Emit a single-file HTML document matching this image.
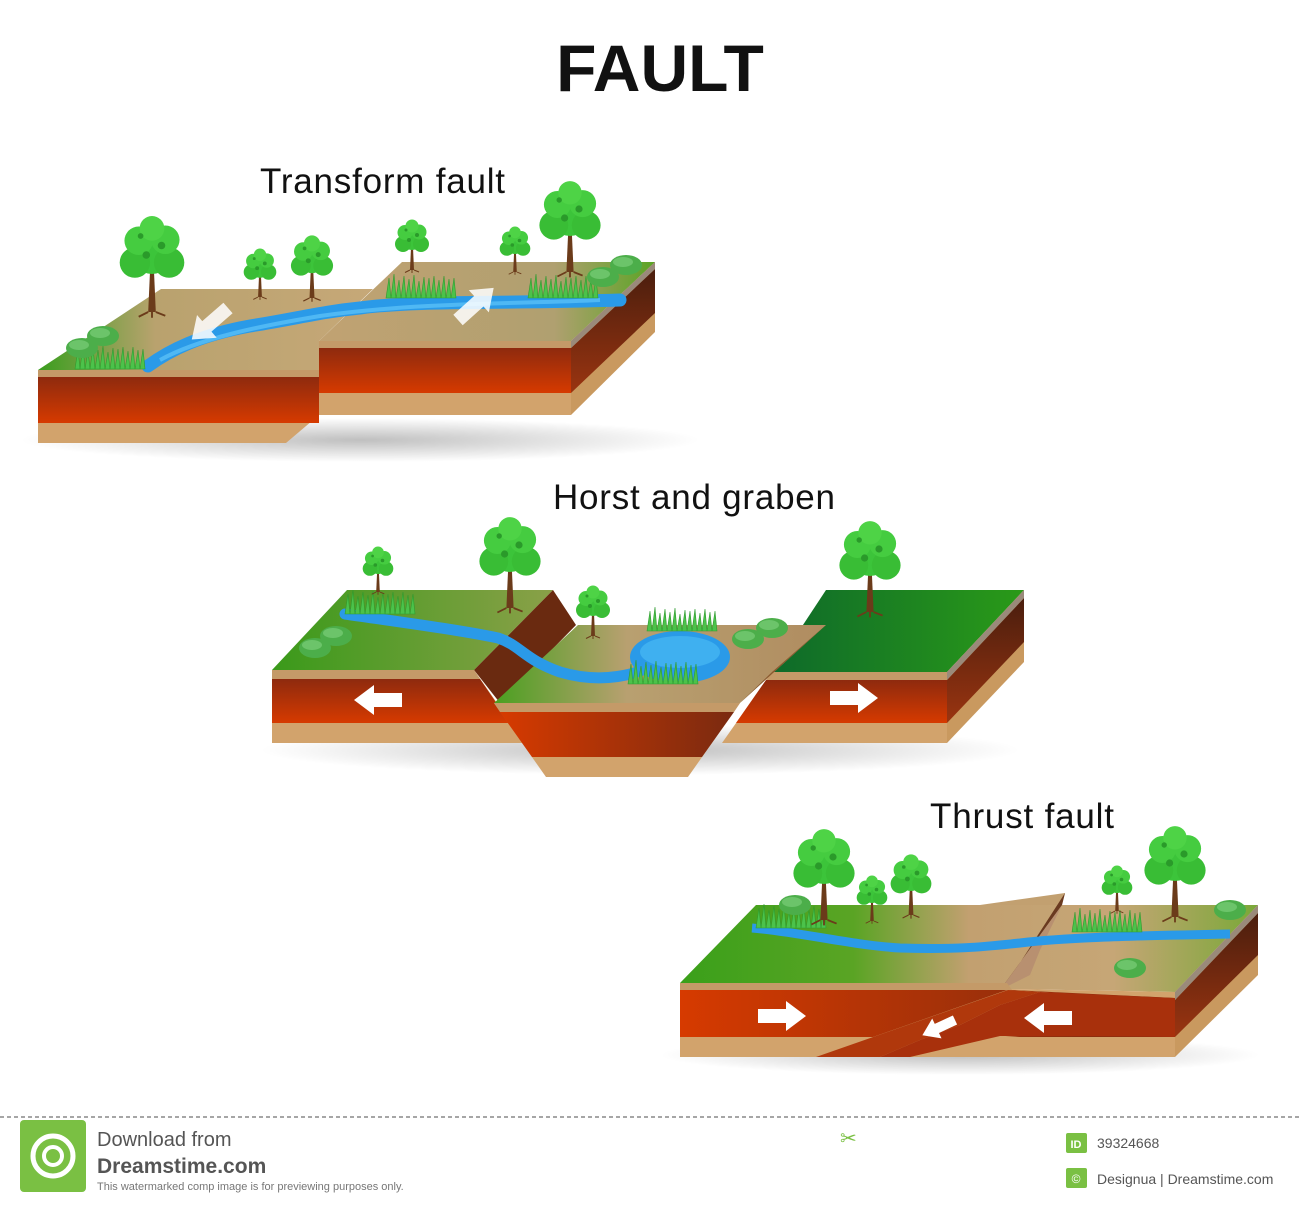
<!DOCTYPE html>
<html><head><meta charset="utf-8"><style>
html,body{margin:0;padding:0;background:#fff;}
body{width:1300px;height:1206px;position:relative;overflow:hidden;font-family:"Liberation Sans",sans-serif;}
</style></head><body>
<svg width="1300" height="1206" viewBox="0 0 1300 1206" xmlns="http://www.w3.org/2000/svg" style="position:absolute;left:0;top:0">
<defs>
<linearGradient id="red" x1="0" y1="0" x2="0" y2="1"><stop offset="0" stop-color="#8e2a0e"/><stop offset="1" stop-color="#d63a00"/></linearGradient>
<linearGradient id="redh" x1="0" y1="0" x2="1" y2="0"><stop offset="0" stop-color="#d63a00"/><stop offset="1" stop-color="#7a2a10"/></linearGradient>
<linearGradient id="side" x1="0" y1="0" x2="0" y2="1"><stop offset="0" stop-color="#4a1e0e"/><stop offset="1" stop-color="#9a3410"/></linearGradient>
<linearGradient id="gtan" x1="0" y1="0" x2="1" y2="0"><stop offset="0" stop-color="#3a9e1e"/><stop offset="0.35" stop-color="#b9a26e"/><stop offset="1" stop-color="#c6a878"/></linearGradient>
<linearGradient id="tang" x1="0" y1="0" x2="1" y2="0"><stop offset="0" stop-color="#c1a272"/><stop offset="0.7" stop-color="#b0a070"/><stop offset="1" stop-color="#5aa424"/></linearGradient>
<linearGradient id="green1" x1="0" y1="0" x2="1" y2="0"><stop offset="0" stop-color="#3a9a1a"/><stop offset="1" stop-color="#8aa048"/></linearGradient>
<linearGradient id="dgreen" x1="0" y1="0" x2="1" y2="0"><stop offset="0" stop-color="#0e6a2a"/><stop offset="1" stop-color="#2a9a18"/></linearGradient>
<linearGradient id="grab" x1="0" y1="0" x2="1" y2="0"><stop offset="0" stop-color="#4aa020"/><stop offset="0.4" stop-color="#b8a070"/><stop offset="1" stop-color="#b08c60"/></linearGradient>
<linearGradient id="thr" x1="0" y1="0" x2="1" y2="0"><stop offset="0" stop-color="#3aa01a"/><stop offset="0.3" stop-color="#5aa424"/><stop offset="0.5" stop-color="#c2a070"/><stop offset="0.75" stop-color="#c6a676"/><stop offset="1" stop-color="#7aa838"/></linearGradient>
<radialGradient id="shad"><stop offset="0" stop-color="#000" stop-opacity="0.25"/><stop offset="1" stop-color="#000" stop-opacity="0"/></radialGradient>
<g id="tree">
<path d="M-4,0 L-2,-45 L2,-45 L4,0 Z" fill="#6b3b1a"/>
<path d="M-4,0 L-14,5 M4,0 L14,4 M0,0 L0,6" stroke="#6b3b1a" stroke-width="2"/>
<circle cx="0" cy="-62" r="22" fill="#3cc43a"/>
<circle cx="-18" cy="-52" r="16" fill="#39bd35"/>
<circle cx="18" cy="-52" r="16" fill="#39bd35"/>
<circle cx="-14" cy="-75" r="15" fill="#45cc40"/>
<circle cx="14" cy="-76" r="15" fill="#45cc40"/>
<circle cx="0" cy="-88" r="13" fill="#4ed346"/>
<circle cx="-6" cy="-60" r="4" fill="#2a9a2a"/><circle cx="10" cy="-70" r="4" fill="#2a9a2a"/><circle cx="-12" cy="-80" r="3" fill="#2a9a2a"/>
</g>
<g id="grass"><path d="M0,0 l3,-20 l2,20 l3,-24 l2,24 l3,-18 l2,18 l3,-22 l2,22 l3,-19 l2,19 l3,-23 l2,23 l3,-17 l2,17 l3,-21 l2,21 l3,-20 l2,20 l3,-22 l2,22 l3,-18 l2,18 l3,-22 l2,22 l3,-19 l2,19 l3,-20 l2,20 Z" fill="#4cc24a" stroke="#2e9a2e" stroke-width="0.6"/></g>
<g id="bush"><ellipse cx="0" cy="0" rx="16" ry="10" fill="#4cae4a"/><ellipse cx="-3" cy="-3" rx="10" ry="5" fill="#6cc46a"/></g>
</defs>

<text x="660" y="91" text-anchor="middle" font-family="Liberation Sans" font-weight="bold" font-size="66" fill="#111">FAULT</text>
<text x="260" y="193" font-size="35" fill="#111" textLength="245">Transform fault</text>
<text x="553" y="509" font-size="35" fill="#111" textLength="282">Horst and graben</text>
<text x="930" y="828" font-size="35" fill="#111" textLength="184">Thrust fault</text>

<!-- ============ TRANSFORM ============ -->
<ellipse cx="360" cy="440" rx="340" ry="22" fill="url(#shad)"/>
<polygon points="38,370 319,370 319,341 373,289 161,289" fill="url(#gtan)"/>
<polygon points="38,370 319,370 319,415 286,443 38,443" fill="#d2a36c"/>
<rect x="38" y="370" width="281" height="7" fill="#c49a68"/>
<rect x="38" y="377" width="281" height="46" fill="url(#red)"/>
<polygon points="319,341 571,341 655,262 402,262" fill="url(#tang)"/>
<rect x="319" y="341" width="252" height="74" fill="#d2a36c"/>
<rect x="319" y="341" width="252" height="7" fill="#c49a68"/>
<rect x="319" y="348" width="252" height="45" fill="url(#red)"/>
<polygon points="571,341 655,262 655,332 571,415" fill="#c9995f"/>
<polygon points="571,348 655,269 655,313 571,393" fill="url(#side)"/>
<polygon points="571,341 655,262 655,269 571,348" fill="#9a8a7a"/>
<path d="M148,366 C170,350 200,335 250,326 C300,318 320,312 360,308 C420,300 500,304 620,300" fill="none" stroke="#2a9ae8" stroke-width="13" stroke-linecap="round"/>
<path d="M160,360 C200,338 260,326 320,316 C420,302 520,304 600,300" fill="none" stroke="#4fb8f4" stroke-width="4"/>
<use href="#grass" x="75" y="369"/>
<use href="#grass" x="386" y="298"/>
<use href="#grass" x="528" y="298"/>
<use href="#bush" x="103" y="336"/><use href="#bush" x="82" y="348"/>
<use href="#bush" x="626" y="265"/><use href="#bush" x="603" y="277"/>
<use href="#tree" transform="translate(152,312) scale(0.95)"/>
<use href="#tree" transform="translate(260,297) scale(0.48)"/>
<use href="#tree" transform="translate(312,298) scale(0.62)"/>
<use href="#tree" transform="translate(412,270) scale(0.5)"/>
<use href="#tree" transform="translate(515,272) scale(0.45)"/>
<use href="#tree" transform="translate(570,272) scale(0.9)"/>
<polygon points="0,-7 28,-7 28,-15 48,0 28,15 28,7 0,7" fill="#fff" opacity="0.85" transform="translate(228,308) rotate(139)"/>
<polygon points="0,-7 28,-7 28,-15 48,0 28,15 28,7 0,7" fill="#fff" opacity="0.85" transform="translate(458,320) rotate(-42)"/>

<!-- ============ HORST & GRABEN ============ -->
<ellipse cx="640" cy="750" rx="380" ry="25" fill="url(#shad)"/>
<polygon points="772,672 947,672 1024,590 826,590" fill="url(#dgreen)"/>
<polygon points="772,672 947,672 947,743 722,743" fill="#d2a36c"/>
<polygon points="772,672 947,672 947,680 766,680" fill="#c49a68"/>
<polygon points="766,680 947,680 947,723 736,723" fill="url(#red)"/>
<polygon points="947,672 1024,590 1024,662 947,743" fill="#c9995f"/>
<polygon points="947,680 1024,598 1024,642 947,723" fill="url(#side)"/>
<polygon points="947,672 1024,590 1024,598 947,680" fill="#9a8a7a"/>
<polygon points="272,670 474,670 553,590 347,590" fill="url(#green1)"/>
<polygon points="474,670 553,590 576,625 500,703" fill="#6a2a10"/>
<polygon points="272,670 474,670 525,743 272,743" fill="#d2a36c"/>
<polygon points="272,670 474,670 480,679 272,679" fill="#c49a68"/>
<polygon points="272,679 480,679 510,723 272,723" fill="url(#red)"/>
<polygon points="494,703 740,703 826,625 578,625" fill="url(#grab)"/>
<polygon points="740,703 772,672 826,625" fill="#8a5a30"/>
<polygon points="494,703 740,703 688,777 546,777" fill="#d2a36c"/>
<polygon points="494,703 740,703 734,712 500,712" fill="#c49a68"/>
<polygon points="500,712 734,712 702,757 532,757" fill="url(#redh)"/>
<path d="M345,614 C400,622 460,630 498,638 C520,645 525,660 560,672 C600,684 640,676 660,660" fill="none" stroke="#2a9ae8" stroke-width="11" stroke-linecap="round"/>
<ellipse cx="680" cy="657" rx="50" ry="26" fill="#2a9ae8"/>
<ellipse cx="680" cy="652" rx="40" ry="16" fill="#3fb0f0"/>
<use href="#grass" x="345" y="614"/>
<use href="#grass" x="647" y="631"/>
<use href="#grass" x="628" y="684"/>
<use href="#bush" x="336" y="636"/><use href="#bush" x="315" y="648"/>
<use href="#bush" x="772" y="628"/><use href="#bush" x="748" y="639"/>
<use href="#tree" transform="translate(378,592) scale(0.45)"/>
<use href="#tree" transform="translate(510,608) scale(0.9)"/>
<use href="#tree" transform="translate(593,636) scale(0.5)"/>
<use href="#tree" transform="translate(870,612) scale(0.9)"/>
<polygon points="0,-7 28,-7 28,-15 48,0 28,15 28,7 0,7" fill="#fff" transform="translate(402,700) rotate(180)"/>
<polygon points="0,-7 28,-7 28,-15 48,0 28,15 28,7 0,7" fill="#fff" transform="translate(830,698)"/>

<!-- ============ THRUST ============ -->
<ellipse cx="960" cy="1055" rx="300" ry="20" fill="url(#shad)"/>
<polygon points="680,983 1175,992 1258,905 756,905" fill="url(#thr)"/>
<polygon points="980,905 1065,893 1062,905 1000,905" fill="#c2a070"/>
<polygon points="1007,983 1065,893 1062,905 1000,990" fill="#6a3a20"/>
<polygon points="1000,990 1062,905 1040,950 1030,975" fill="#b89070"/>
<polygon points="680,983 1175,992 1175,1057 680,1057" fill="#d2a36c"/>
<polygon points="680,983 1007,983 1012,990 680,990" fill="#c49a68"/>
<polygon points="680,990 1012,990 1175,998 1175,1037 680,1037" fill="url(#redh)"/>
<polygon points="816,1057 1007,990 1175,1000 1175,1030 1080,1032 990,1038 900,1057" fill="#d2a36c"/>
<polygon points="816,1057 1008,990 1040,992 1000,1005 960,1025 920,1040 880,1057" fill="#b0380c"/>
<polygon points="880,1057 920,1040 960,1025 1000,1005 1040,992 1175,998 1175,1037 1080,1036 1000,1036 940,1050 910,1057" fill="#a8300c"/>
<polygon points="1175,992 1258,905 1258,975 1175,1057" fill="#c9995f"/>
<polygon points="1175,1000 1258,913 1258,955 1175,1037" fill="url(#side)"/>
<polygon points="1175,992 1258,905 1258,913 1175,1000" fill="#9a8a7a"/>
<path d="M752,928 C800,932 850,945 900,948 C960,950 990,946 1020,943 C1060,938 1120,936 1230,934" fill="none" stroke="#2a9ae8" stroke-width="9"/>
<use href="#grass" x="756" y="928"/>
<use href="#grass" x="1072" y="932"/>
<use href="#bush" x="795" y="905"/>
<use href="#bush" x="1130" y="968"/>
<use href="#bush" x="1230" y="910"/>
<use href="#tree" transform="translate(824,920) scale(0.9)"/>
<use href="#tree" transform="translate(872,921) scale(0.45)"/>
<use href="#tree" transform="translate(911,915) scale(0.6)"/>
<use href="#tree" transform="translate(1117,911) scale(0.45)"/>
<use href="#tree" transform="translate(1175,917) scale(0.9)"/>
<polygon points="0,-7 28,-7 28,-15 48,0 28,15 28,7 0,7" fill="#fff" transform="translate(758,1016)"/>
<polygon points="0,-7 28,-7 28,-15 48,0 28,15 28,7 0,7" fill="#fff" transform="translate(1072,1018) rotate(180)"/>
<polygon points="0,-5 20,-5 20,-11 36,0 20,11 20,5 0,5" fill="#fff" transform="translate(955,1020) rotate(155)"/>

<!-- footer -->
<line x1="0" y1="1117" x2="1300" y2="1117" stroke="#888" stroke-width="1.5" stroke-dasharray="4,3"/>
<rect x="20" y="1120" width="66" height="72" rx="4" fill="#7ac043"/>
<circle cx="53" cy="1156" r="20" fill="none" stroke="#fff" stroke-width="5"/>
<circle cx="53" cy="1156" r="9" fill="none" stroke="#fff" stroke-width="4"/>
<text x="97" y="1146" font-size="20" fill="#555">Download from</text>
<text x="97" y="1173" font-size="21" font-weight="bold" fill="#555">Dreamstime.com</text>
<text x="97" y="1190" font-size="11" fill="#777">This watermarked comp image is for previewing purposes only.</text>
<text x="840" y="1145" font-size="20" fill="#7ac043">✂</text>
<rect x="1066" y="1133" width="21" height="20" rx="2" fill="#7ac043"/>
<text x="1076" y="1148" text-anchor="middle" font-size="11" font-weight="bold" fill="#fff">ID</text>
<text x="1097" y="1148" font-size="14" fill="#555">39324668</text>
<rect x="1066" y="1168" width="21" height="20" rx="2" fill="#7ac043"/>
<text x="1076" y="1183" text-anchor="middle" font-size="12" fill="#fff">©</text>
<text x="1097" y="1184" font-size="14" fill="#555">Designua | Dreamstime.com</text>
</svg>
</body></html>
